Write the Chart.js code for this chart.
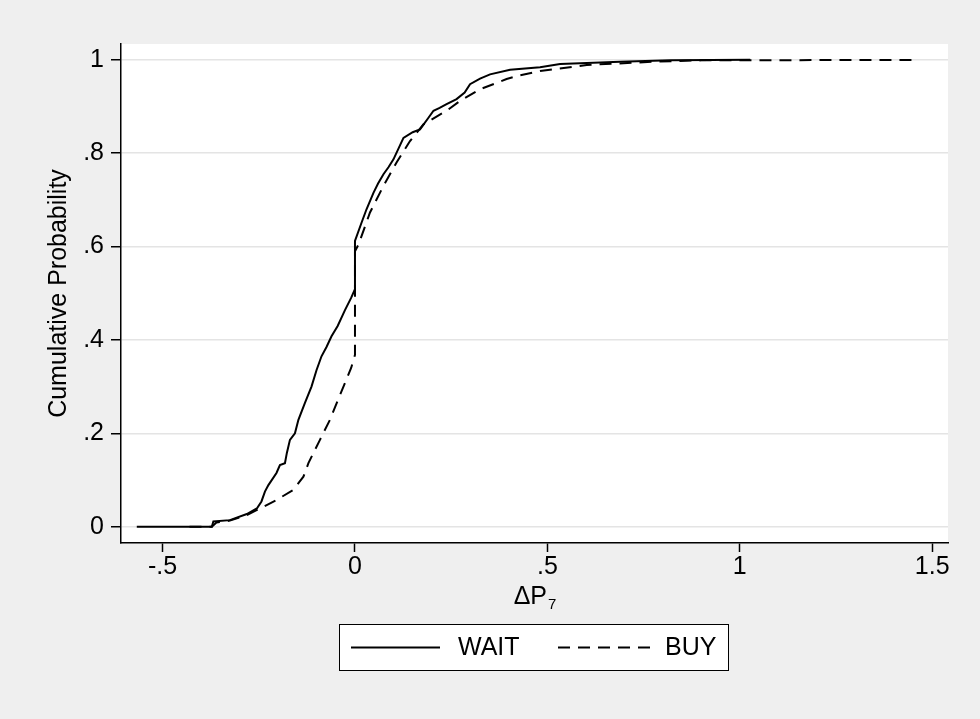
<!DOCTYPE html>
<html>
<head>
<meta charset="utf-8">
<script src="https://cdn.jsdelivr.net/npm/chart.js@4/dist/chart.umd.min.js"></script>
<style>
  body { margin: 0; background: #efefef; }
  canvas { display: block; }
</style>
</head>
<body>
<canvas id="cdfChart" width="980" height="719"></canvas>
<script>
const waitX = [-0.567, -0.372, -0.368, -0.325, -0.281, -0.255, -0.243, -0.234, -0.225, -0.204, -0.195, -0.182, -0.177, -0.169, -0.156, -0.147, -0.130, -0.113, -0.100, -0.087, -0.074, -0.061, -0.045, -0.026, -0.010, 0, 0, 0.017, 0.030, 0.048, 0.060, 0.074, 0.087, 0.100, 0.113, 0.126, 0.150, 0.169, 0.190, 0.204, 0.220, 0.238, 0.264, 0.285, 0.299, 0.325, 0.351, 0.403, 0.481, 0.533, 0.585, 0.689, 0.820, 1.027];
const waitY = [0, 0, 0.011, 0.014, 0.027, 0.039, 0.054, 0.075, 0.089, 0.115, 0.132, 0.136, 0.158, 0.186, 0.200, 0.229, 0.265, 0.300, 0.335, 0.365, 0.385, 0.408, 0.430, 0.464, 0.490, 0.509, 0.612, 0.651, 0.680, 0.715, 0.735, 0.755, 0.770, 0.787, 0.810, 0.833, 0.845, 0.851, 0.875, 0.891, 0.897, 0.905, 0.916, 0.930, 0.948, 0.960, 0.969, 0.979, 0.984, 0.991, 0.993, 0.996, 0.999, 1.0];

const buyX = [-0.430, -0.372, -0.360, -0.325, -0.281, -0.247, -0.204, -0.160, -0.134, -0.121, -0.108, -0.091, -0.065, -0.045, -0.026, -0.010, 0, 0, 0.009, 0.039, 0.074, 0.108, 0.143, 0.178, 0.238, 0.273, 0.325, 0.394, 0.429, 0.481, 0.602, 0.775, 0.900, 1.462];
const buyY = [0, 0, 0.009, 0.013, 0.025, 0.039, 0.057, 0.079, 0.107, 0.136, 0.158, 0.186, 0.229, 0.270, 0.308, 0.340, 0.368, 0.590, 0.604, 0.673, 0.730, 0.780, 0.826, 0.862, 0.891, 0.912, 0.937, 0.959, 0.967, 0.976, 0.989, 0.996, 0.999, 1.0];

const xTicks = [-0.5, 0, 0.5, 1, 1.5];
const xTickLabels = ['-.5', '0', '.5', '1', '1.5'];
const yTicks = [0, 0.2, 0.4, 0.6, 0.8, 1];
const yTickLabels = ['0', '.2', '.4', '.6', '.8', '1'];

const seriesNames = ['WAIT', 'BUY'];

const FONT = "'Liberation Sans', Arial, sans-serif";
const FS = 25;

const toPoints = (xs, ys) => xs.map((x, i) => ({ x: x, y: ys[i] }));

const stataPlugin = {
    id: 'stataLook',
    beforeDraw(chart) {
        const ctx = chart.ctx;
        const a = chart.chartArea;
        ctx.save();
        ctx.fillStyle = '#efefef';
        ctx.fillRect(0, 0, chart.width, chart.height);
        ctx.fillStyle = '#ffffff';
        ctx.fillRect(a.left, a.top, a.right - a.left, a.bottom - a.top);
        ctx.restore();
    },
    afterDraw(chart) {
        const ctx = chart.ctx;
        const a = chart.chartArea;
        ctx.save();
        ctx.fillStyle = '#000';

        // y title
        ctx.font = FS + 'px ' + FONT;
        ctx.textAlign = 'center';
        ctx.textBaseline = 'middle';
        ctx.translate(59, (a.top + a.bottom) / 2);
        ctx.rotate(-Math.PI / 2);
        ctx.fillText('Cumulative Probability', 0, 0);
        ctx.setTransform(1, 0, 0, 1, 0, 0);

        // x title: ΔP with subscript 7
        const cx = (a.left + a.right) / 2;
        ctx.textAlign = 'left';
        ctx.textBaseline = 'alphabetic';
        ctx.font = FS + 'px ' + FONT;
        const main = '\u0394P';
        const wMain = ctx.measureText(main).width;
        ctx.font = '15px ' + FONT;
        const wSub = ctx.measureText('7').width;
        const x0 = cx - (wMain + wSub) / 2;
        ctx.font = FS + 'px ' + FONT;
        ctx.fillText(main, x0, 604);
        ctx.font = '15px ' + FONT;
        ctx.fillText('7', x0 + wMain + 1, 609);

        // legend box
        const bx = 339.5, by = 624.5, bw = 389, bh = 46;
        ctx.fillStyle = '#fff';
        ctx.fillRect(bx, by, bw, bh);
        ctx.strokeStyle = '#000';
        ctx.lineWidth = 1;
        ctx.strokeRect(bx, by, bw, bh);

        const items = [
            { x1: 351, x2: 440, tx: 458 },
            { x1: 558, x2: 651, tx: 665 }
        ];
        chart.data.datasets.forEach((ds, i) => {
            const it = items[i];
            ctx.beginPath();
            ctx.setLineDash(ds.borderDash || []);
            ctx.lineWidth = 2;
            ctx.moveTo(it.x1, 647.5);
            ctx.lineTo(it.x2, 647.5);
            ctx.stroke();
            ctx.setLineDash([]);
            ctx.fillStyle = '#000';
            ctx.font = FS + 'px ' + FONT;
            ctx.textBaseline = 'middle';
            ctx.fillText(ds.label, it.tx, 648);
        });
        ctx.restore();
    }
};

new Chart(document.getElementById('cdfChart').getContext('2d'), {
    type: 'scatter',
    data: {
        datasets: [{
            label: seriesNames[0],
            data: toPoints(waitX, waitY),
            showLine: true,
            borderColor: '#000',
            borderWidth: 2,
            pointRadius: 0,
            tension: 0
        }, {
            label: seriesNames[1],
            data: toPoints(buyX, buyY),
            showLine: true,
            borderColor: '#000',
            borderWidth: 2,
            borderDash: [12, 8],
            pointRadius: 0,
            tension: 0
        }]
    },
    options: {
        responsive: false,
        animation: false,
        layout: {
            padding: { top: 44, right: 32, left: 0, bottom: 0 }
        },
        plugins: {
            legend: { display: false },
            tooltip: { enabled: false }
        },
        scales: {
            x: {
                type: 'linear',
                min: -0.608,
                max: 1.541,
                afterBuildTicks: scale => { scale.ticks = xTicks.map(v => ({ value: v })); },
                afterFit: scale => { scale.height = 176; },
                grid: {
                    drawOnChartArea: false,
                    drawTicks: true,
                    tickLength: 9,
                    tickColor: '#000',
                    tickWidth: 1.5
                },
                border: { display: true, color: '#000', width: 1.5 },
                ticks: {
                    color: '#000',
                    padding: 0,
                    maxRotation: 0,
                    font: { family: FONT, size: FS },
                    callback: value => xTickLabels[xTicks.indexOf(value)]
                }
            },
            y: {
                type: 'linear',
                min: -0.035,
                max: 1.034,
                afterBuildTicks: scale => { scale.ticks = yTicks.map(v => ({ value: v })); },
                afterFit: scale => { scale.width = 121; },
                grid: {
                    color: '#e4e4e4',
                    lineWidth: 1.5,
                    drawTicks: true,
                    tickLength: 10,
                    tickColor: '#000',
                    tickWidth: 1.5
                },
                border: { display: true, color: '#000', width: 1.5 },
                ticks: {
                    color: '#000',
                    padding: 7,
                    font: { family: FONT, size: FS },
                    callback: value => yTickLabels[yTicks.indexOf(value)]
                }
            }
        }
    },
    plugins: [stataPlugin]
});
</script>
</body>
</html>
